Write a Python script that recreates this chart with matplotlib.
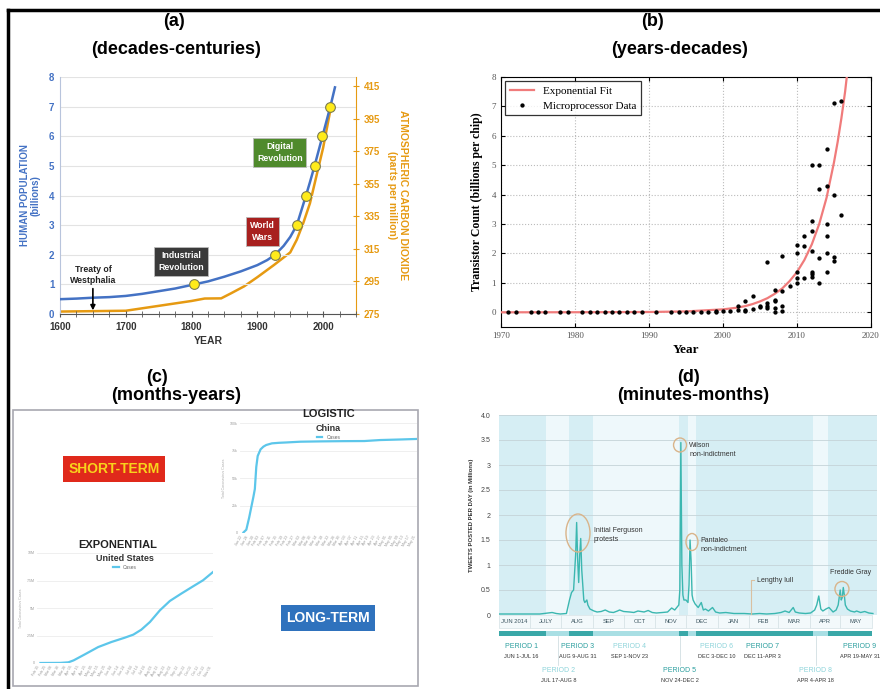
import numpy as np
import matplotlib.pyplot as plt
import pandas as pd
from matplotlib.patches import Rectangle, Ellipse
from matplotlib.lines import Line2D

plt.rcParams['font.family'] = ['Liberation Sans', 'DejaVu Sans']

W, H = 880, 689

# ---------------- (a) population / CO2 ----------------
pop_year = [1600, 1625, 1650, 1675, 1700, 1725, 1750, 1775, 1800, 1825, 1850, 1875,
            1900, 1915, 1927, 1940, 1950, 1960, 1967, 1974, 1980, 1987, 1993, 1999,
            2005, 2011, 2018]
pop_bn = [0.5, 0.52, 0.55, 0.57, 0.61, 0.68, 0.77, 0.86, 0.98, 1.1, 1.26, 1.44,
          1.65, 1.82, 2.0, 2.3, 2.6, 3.0, 3.5, 4.0, 4.45, 5.0, 5.5, 6.0,
          6.5, 7.0, 7.65]
pop_mark_year = [1804, 1927, 1960, 1974, 1987, 1999, 2011]
pop_mark_bn = [1, 2, 3, 4, 5, 6, 7]

co2_year = [1600, 1700, 1750, 1800, 1820, 1845, 1860, 1880, 1900, 1925, 1950, 1960,
            1970, 1980, 1990, 2000, 2010, 2013]
co2_ppm = [276.5, 277, 280, 283, 284.5, 284.6, 287.7, 292, 297.6, 305, 312.8, 320.6,
           331, 343, 360, 377, 398, 403]

# ---------------- (b) transistor counts ----------------
fit_year = [1970, 1980, 1990, 1995, 2000, 2001, 2002, 2003, 2004, 2005, 2006, 2007,
            2008, 2009, 2010, 2011, 2012, 2013, 2014, 2015, 2015.5, 2016, 2016.5,
            2017, 2017.5]
fit_bn = [0.0, 0.002, 0.01, 0.03, 0.1, 0.13, 0.16, 0.21, 0.28, 0.37, 0.48, 0.63,
          0.81, 1.06, 1.37, 1.78, 2.31, 3.0, 3.9, 5.1, 5.8, 6.6, 7.5, 8.6, 9.8]

chip_year = [1971, 1972, 1974, 1975, 1976, 1978, 1979, 1981, 1982, 1983, 1984, 1985,
             1986, 1987, 1988, 1989, 1991, 1993, 1994, 1995, 1996, 1997, 1998, 1999,
             1999, 2000, 2001, 2002, 2002, 2003, 2003, 2003, 2004, 2004, 2005, 2005,
             2006, 2006, 2006, 2006, 2007, 2007, 2007, 2007, 2007, 2008, 2008, 2008,
             2008, 2009, 2010, 2010, 2010, 2010, 2010, 2011, 2011, 2011, 2012, 2012,
             2012, 2012, 2012, 2012, 2012, 2013, 2013, 2013, 2013, 2014, 2014, 2014,
             2014, 2014, 2014, 2015, 2015, 2015, 2015, 2016, 2016]
chip_bn = [0.0, 0.0, 0.0, 0.0, 0.0, 0.0, 0.0, 0.0, 0.0, 0.0, 0.0, 0.0,
           0.0, 0.0, 0.0, 0.0, 0.001, 0.003, 0.003, 0.005, 0.005, 0.008, 0.01, 0.02,
           0.03, 0.04, 0.04, 0.08, 0.2, 0.4, 0.08, 0.05, 0.56, 0.1, 0.17, 0.2,
           1.7, 0.3, 0.23, 0.16, 0.75, 0.41, 0.37, 0.14, 0.0, 1.9, 0.72, 0.2,
           0.03, 0.9, 2.3, 2.0, 1.37, 1.17, 1.0, 2.6, 2.25, 1.15, 5.0, 3.1,
           2.75, 2.1, 1.37, 1.3, 1.2, 5.0, 4.2, 1.85, 1.0, 5.55, 4.3, 3.0,
           2.6, 2.0, 1.37, 7.1, 4.0, 1.87, 1.75, 7.2, 3.3]

# ---------------- (c) covid cases ----------------
china_day = [0, 2, 4, 7, 8, 9, 10, 12, 14, 16, 20, 25, 30, 40, 55, 70, 85, 96, 110, 122]
china_k = [0.5, 3, 14, 33, 40, 60, 70, 76, 78.5, 80, 81.5, 82, 82.3, 83, 83.3, 83.5,
           83.6, 84.5, 85, 85.5]
us_day = [0, 30, 42, 50, 67, 87, 107, 127, 140, 152, 165, 180, 195, 212, 230, 245, 260]
us_m = [0.0, 0.01, 0.06, 0.24, 0.79, 1.45, 1.91, 2.3, 2.58, 3.03, 3.73, 4.79, 5.64,
        6.3, 6.97, 7.52, 8.27]
china_ticks = pd.date_range('2020-01-22', periods=31, freq='4D').strftime('%b %d')
us_ticks = pd.date_range('2020-02-15', periods=27, freq='10D').strftime('%b %d')

# ---------------- (d) tweets per day (days since Jun 1) ----------------
tweet_day = [0, 10, 24, 40, 52, 56, 60, 66, 69, 71, 73, 75, 76, 77, 78, 79, 80, 81,
             83, 84, 86, 87, 89, 93, 96, 100, 104, 108, 112, 116, 118, 122, 128, 132,
             136, 142, 146, 150, 154, 160, 165, 169, 172, 174, 176, 177, 178, 179, 180,
             181, 183, 185, 186, 187, 188, 189, 190, 192, 195, 198, 200, 202, 205, 209,
             212, 216, 222, 230, 240, 248, 255, 262, 270, 276, 280, 284, 286, 288, 290,
             294, 300, 305, 309, 311, 313, 314, 315, 317, 320, 323, 327, 330, 332, 334,
             335, 336, 337, 338, 339, 341, 344, 348, 350, 354, 358, 362, 366]
tweet_mn = [0.02, 0.02, 0.02, 0.02, 0.05, 0.03, 0.02, 0.03, 0.3, 0.45, 0.5, 1.2, 1.85,
            1.1, 0.65, 1.2, 1.53, 0.9, 0.3, 0.25, 0.3, 0.2, 0.12, 0.08, 0.06, 0.07,
            0.1, 0.06, 0.05, 0.08, 0.1, 0.07, 0.06, 0.05, 0.08, 0.06, 0.09, 0.05, 0.04,
            0.05, 0.06, 0.14, 0.1, 0.15, 0.2, 0.5, 3.45, 1.0, 0.4, 0.3, 0.3, 0.25,
            0.6, 1.5, 1.1, 0.4, 0.3, 0.22, 0.15, 0.25, 0.1, 0.12, 0.08, 0.15, 0.06,
            0.04, 0.05, 0.03, 0.03, 0.02, 0.03, 0.02, 0.03, 0.05, 0.08, 0.05, 0.1,
            0.15, 0.06, 0.04, 0.03, 0.04, 0.1, 0.2, 0.38, 0.25, 0.12, 0.08, 0.12, 0.15,
            0.06, 0.1, 0.2, 0.5, 0.3, 0.35, 0.55, 0.4, 0.2, 0.12, 0.08, 0.06, 0.08,
            0.05, 0.07, 0.04, 0.03]

month_start = [0, 30, 61, 92, 122, 153, 183, 214, 245, 273, 304, 334, 365]
month_name = ['JUN 2014', 'JULY', 'AUG', 'SEP', 'OCT', 'NOV', 'DEC', 'JAN', 'FEB',
              'MAR', 'APR', 'MAY']
period_start = [0, 46, 69, 92, 176, 185, 193, 307, 322]
period_end = [46, 69, 92, 176, 185, 193, 307, 322, 365]
period_name = ['PERIOD 1', 'PERIOD 2', 'PERIOD 3', 'PERIOD 4', 'PERIOD 5',
               'PERIOD 6', 'PERIOD 7', 'PERIOD 8', 'PERIOD 9']
period_dates = ['JUN 1-JUL 16', 'JUL 17-AUG 8', 'AUG 9-AUG 31', 'SEP 1-NOV 23',
                'NOV 24-DEC 2', 'DEC 3-DEC 10', 'DEC 11-APR 3', 'APR 4-APR 18',
                'APR 19-MAY 31']
period_dark = [True, False, True, False, True, False, True, False, True]
period_row = [1, 2, 1, 1, 2, 1, 1, 2, 1]
period_label_x = [22, 58, 77, 128, 177, 213, 258, 310, 353]


fig = plt.figure(figsize=(W / 100, H / 100), dpi=100)


def axes_px(left, top, right, bottom):
    return fig.add_axes([left / W, 1 - bottom / H, (right - left) / W, (bottom - top) / H])


def ftext(x, y, s, **kw):
    fig.text(x / W, 1 - y / H, s, ha='center', va='center', **kw)


# frame around the figure
fig.add_artist(Line2D([8 / W, 8 / W], [0, 1 - 10 / H], color='black', lw=2.5))
fig.add_artist(Line2D([8 / W, 1], [1 - 10 / H, 1 - 10 / H], color='black', lw=2.5))

# panel headings
for x, y, s in [(174, 22, '(a)'), (176, 50, '(decades-centuries)'),
                (652, 22, '(b)'), (680, 50, '(years-decades)'),
                (157, 378, '(c)'), (176, 396, '(months-years)'),
                (688, 377, '(d)'), (693, 395, '(minutes-months)')]:
    ftext(x, y, s, fontsize=13, fontweight='bold')

# ================= (a) =================
blue, orange = '#4472c4', '#e69a12'
axa = axes_px(60, 77, 356, 314)
axa.plot(pop_year, pop_bn, color=blue, lw=1.8, zorder=3)
axa.plot(pop_mark_year, pop_mark_bn, 'o', ms=7, mfc='#ffeb1a', mec='#7a7a50', mew=0.8, zorder=5)
axa.set_xlim(1600, 2050)
axa.set_ylim(0, 8)
axa.set_xticks([1600, 1700, 1800, 1900, 2000])
axa.set_xticks(np.arange(1600, 2051, 25), minor=True)
axa.set_yticks(range(9))
axa.grid(axis='y', color='#e3e3e3', lw=0.8)
axa.set_axisbelow(True)
for lab in axa.get_yticklabels():
    lab.set_color(blue)
axa.tick_params(axis='y', labelsize=7, length=0, pad=4)
axa.tick_params(axis='x', which='both', direction='inout', length=4, labelsize=7, color='#555555')
for lab in axa.get_xticklabels() + axa.get_yticklabels():
    lab.set_fontweight('bold')
for lab in axa.get_xticklabels():
    lab.set_color('#333333')
axa.spines['top'].set_visible(False)
axa.spines['right'].set_visible(False)
axa.spines['left'].set_color('#b8c4dc')
axa.spines['bottom'].set_color('#555555')
axa.set_xlabel('YEAR', fontsize=7.5, fontweight='bold', color='#333333', labelpad=3)
axa.set_ylabel('HUMAN POPULATION\n(billions)', fontsize=7, fontweight='bold', color=blue,
               linespacing=1.1, labelpad=6)

axa2 = axa.twinx()
axa2.plot(co2_year, co2_ppm, color=orange, lw=1.8, zorder=2)
axa2.set_ylim(275, 420.5)
axa2.set_yticks(range(275, 416, 20))
axa2.tick_params(axis='y', colors=orange, labelsize=7, direction='inout', length=4)
for lab in axa2.get_yticklabels():
    lab.set_fontweight('bold')
for side in ['top', 'left', 'bottom']:
    axa2.spines[side].set_visible(False)
axa2.spines['right'].set_color(orange)
axa2.set_ylabel('ATMOSPHERIC CARBON DIOXIDE\n(parts per million)', fontsize=7.5,
                fontweight='bold', color=orange, rotation=270, labelpad=20, linespacing=1.1)
axa.set_zorder(axa2.get_zorder() + 1)
axa.patch.set_visible(False)

axa.text(1650, 1.32, 'Treaty of\nWestphalia', ha='center', va='center', fontsize=6.3,
         fontweight='bold', color='#222222', linespacing=1.3)
axa.annotate('', xy=(1650, 0.03), xytext=(1650, 0.95),
             arrowprops=dict(arrowstyle='-|>', color='black', lw=1.2, mutation_scale=7))
for x, y, s, c in [(1784, 1.78, 'Industrial\nRevolution', '#3a3a3a'),
                   (1908, 2.78, 'World\nWars', '#a8201f'),
                   (1934, 5.45, 'Digital\nRevolution', '#4f8a2c')]:
    axa.text(x, y, s, ha='center', va='center', fontsize=6.3, fontweight='bold',
             color='white', linespacing=1.4,
             bbox=dict(boxstyle='square,pad=0.45', fc=c, ec='#bbbbbb', lw=0.6))

# ================= (b) =================
serif = ['Liberation Serif', 'DejaVu Serif']
axb = axes_px(501, 77, 871, 327)
axb.plot(fit_year, fit_bn, color='#f07b7b', lw=1.6, label='Exponential Fit', zorder=3)
axb.plot(chip_year, chip_bn, 'o', color='black', ms=2.1, label='Microprocessor Data', zorder=4)
axb.set_xlim(1970, 2020)
axb.set_ylim(-0.5, 8)
axb.set_yticks(range(9))
axb.set_xticks(range(1970, 2021, 10))
axb.grid(True, ls=':', color='#bbbbbb', lw=0.8)
axb.tick_params(direction='in', top=True, right=True, labelsize=6.5, labelcolor='#555555', length=3)
for lab in axb.get_xticklabels() + axb.get_yticklabels():
    lab.set_family(serif)
axb.set_xlabel('Year', fontsize=9.5, fontweight='bold', family=serif, labelpad=3)
axb.set_ylabel('Transistor Count (billions per chip)', fontsize=8.5, fontweight='bold',
               family=serif, labelpad=6)
leg = axb.legend(loc='upper left', prop={'family': serif, 'size': 8}, fancybox=False,
                 edgecolor='black', borderaxespad=0.4, handlelength=2.2, markerscale=1.0)
leg.get_frame().set_linewidth(0.9)

# ================= (c) =================
fig.add_artist(Rectangle((13 / W, 1 - 686 / H), 405 / W, 276 / H, transform=fig.transFigure,
                         fill=False, ec='#a8a8b0', lw=1.2))
cyan = '#5cc6ea'


def covid_inset(ax, days, vals, ticks, ymax, ylabels, country):
    ax.plot(days, vals, color=cyan, lw=1.6, label='Cases')
    ax.set_ylim(0, ymax)
    ax.set_yticks(np.linspace(0, ymax, 5))
    ax.set_yticklabels(ylabels)
    span = days[-1]
    ax.set_xlim(-span * 0.02, span * 1.0)
    ax.set_xticks(np.linspace(0, span, len(ticks)))
    ax.set_xticklabels(ticks, rotation=60, ha='right')
    ax.tick_params(labelsize=2.6, labelcolor='#999999', length=0, pad=1.5)
    ax.grid(axis='y', color='#ececec', lw=0.6)
    for s in ax.spines.values():
        s.set_visible(False)
    ax.set_ylabel('Total Coronavirus Cases', fontsize=2.6, color='#aaaaaa', labelpad=3)
    ax.text(0.5, 0.95, country, transform=ax.transAxes, ha='center', va='center',
            fontsize=6.5, fontweight='bold', color='#333333')
    ax.legend(loc='upper center', bbox_to_anchor=(0.5, 0.92), frameon=False,
              fontsize=3.5, handlelength=1.2, borderpad=0.1, labelcolor='#666666')


axc1 = axes_px(240, 423, 417, 533)
covid_inset(axc1, china_day, china_k, china_ticks, 100,
            ['0', '25k', '50k', '75k', '100k'], 'China')
ftext(329, 414, 'LOGISTIC', fontsize=8, fontweight='bold', color='#222222')

axc2 = axes_px(37, 553, 213, 663)
covid_inset(axc2, us_day, us_m, us_ticks, 10,
            ['0', '2.5M', '5M', '7.5M', '10M'], 'United States')
ftext(118, 545, 'EXPONENTIAL', fontsize=8, fontweight='bold', color='#222222')

ftext(114, 469, 'SHORT-TERM', fontsize=10, fontweight='bold', color='#f8d21c',
      bbox=dict(boxstyle='square,pad=0.4', fc='#e0291b', ec='none'))
ftext(328, 618, 'LONG-TERM', fontsize=10, fontweight='bold', color='white',
      bbox=dict(boxstyle='square,pad=0.4', fc='#2f72bd', ec='none'))

# ================= (d) =================
teal_dark, teal_light = '#3aa8a8', '#a9dfe4'
axd = axes_px(499, 415, 877, 615)
axd.set_facecolor('#e3f3f7')
for s, e, dark in zip(period_start, period_end, period_dark):
    axd.axvspan(s, e, color='#d6eef4' if dark else '#eef8fb', lw=0, zorder=0)
axd.axvspan(365, 370, color='#d6eef4', lw=0, zorder=0)
axd.plot(tweet_day, tweet_mn, color='#3bb7b0', lw=1.0, zorder=3)
axd.set_xlim(0, 370)
axd.set_ylim(0, 4)
axd.set_yticks(np.arange(0, 4.01, 0.5))
axd.set_yticklabels(['0', '0.5', '1', '1.5', '2', '2.5', '3', '3.5', '4.0'])
axd.set_xticks([])
axd.grid(axis='y', color='#c5d3d8', lw=0.6)
axd.set_axisbelow(True)
axd.tick_params(axis='y', labelsize=5, length=0, labelcolor='#444444', pad=6)
for s in axd.spines.values():
    s.set_visible(False)
axd.set_ylabel('TWEETS POSTED PER DAY (in Millions)', fontsize=4.3, fontweight='bold',
               color='#333333', labelpad=5)

ell = '#d9b48a'
for cx, cy, w, h in [(77.3, 1.64, 23.5, 0.76), (177.2, 3.4, 12.7, 0.28),
                     (188.9, 1.46, 11.7, 0.34), (335.7, 0.52, 13.7, 0.3)]:
    axd.add_patch(Ellipse((cx, cy), w, h, fill=False, ec=ell, lw=1.0, zorder=4))
note = dict(fontsize=5, color='#333333', va='center', ha='left', linespacing=1.3)
axd.text(93, 1.6, 'Initial Ferguson\nprotests', **note)
axd.text(186, 3.3, 'Wilson\nnon-indictment', **note)
axd.text(197, 1.4, 'Pantaleo\nnon-indictment', **note)
axd.text(253, 0.68, 'Lengthy lull', **note)
axd.text(324, 0.85, 'Freddie Gray', **note)
axd.plot([247, 247, 250], [0, 0.7, 0.7], color='#d9c0a0', lw=0.8, zorder=4)

xt = axd.get_xaxis_transform()
for s, e, name in zip(month_start[:-1], month_start[1:], month_name):
    axd.add_patch(Rectangle((s, -0.065), e - s, 0.065, transform=xt, clip_on=False,
                            fc='#f3f9fb', ec='#d5e2e6', lw=0.5))
    axd.text((s + e) / 2, -0.032, name, transform=xt, ha='center', va='center',
             fontsize=4.2, color='#3c5560', clip_on=False)
for s, e, dark in zip(period_start, period_end, period_dark):
    axd.add_patch(Rectangle((s, -0.105), e - s, 0.025, transform=xt, clip_on=False,
                            fc=teal_dark if dark else teal_light, ec='none'))
for x, name, dates, dark, row in zip(period_label_x, period_name, period_dates,
                                     period_dark, period_row):
    y0 = -0.16 if row == 1 else -0.28
    axd.text(x, y0, name, transform=xt, ha='center', va='center', fontsize=5,
             color='#2a9e9e' if dark else '#8ed4da', clip_on=False)
    axd.text(x, y0 - 0.047, dates, transform=xt, ha='center', va='center', fontsize=4,
             color='#333333', clip_on=False)
    if row == 2:
        axd.plot([x, x], [-0.105, y0 + 0.03], transform=xt, color='#c8d8dc', lw=0.5,
                 clip_on=False)

fig.savefig('out.png', dpi=100)
